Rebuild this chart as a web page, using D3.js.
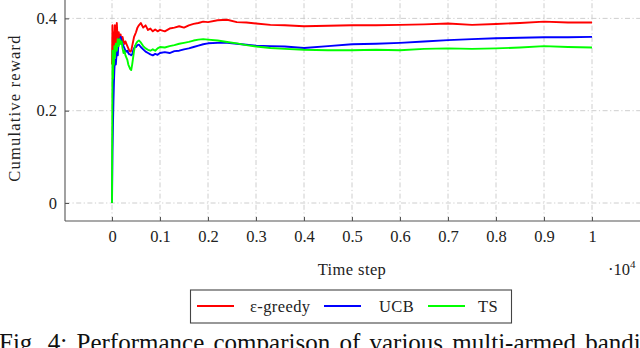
<!DOCTYPE html>
<html>
<head>
<meta charset="utf-8">
<script src="https://cdn.jsdelivr.net/npm/d3@7"></script>
<style>
  body { margin: 0; background: #fff; }
  svg { display: block; font-family: "Liberation Serif", "DejaVu Serif", serif; }
</style>
</head>
<body>
<div id="chart"></div>
<script>
// time steps and cumulative reward
const steps = [0, 10, 20, 30, 40, 50, 60, 80, 100, 120, 140, 160, 180, 200, 220, 240, 260, 280, 300, 320, 340, 360, 380, 400, 420, 440, 460, 480, 500, 530, 560, 600, 650, 700, 750, 800, 850, 900, 950, 1000, 1100, 1200, 1300, 1400, 1500, 1600, 1700, 1800, 1900, 2000, 2200, 2400, 2600, 2800, 3000, 3300, 3600, 4000, 4500, 5000, 5500, 6000, 6500, 7000, 7500, 8000, 8500, 9000, 9500, 10000];

const greedy = [0.30, 0.385, 0.31, 0.37, 0.30, 0.36, 0.385, 0.335, 0.39, 0.35, 0.37, 0.355, 0.365, 0.345, 0.36, 0.35, 0.345, 0.35, 0.345, 0.34, 0.335, 0.33, 0.328, 0.33, 0.34, 0.35, 0.36, 0.365, 0.37, 0.38, 0.385, 0.39, 0.38, 0.385, 0.375, 0.378, 0.372, 0.376, 0.372, 0.375, 0.372, 0.378, 0.38, 0.383, 0.38, 0.385, 0.388, 0.39, 0.393, 0.392, 0.396, 0.397, 0.392, 0.391, 0.389, 0.386, 0.385, 0.383, 0.384, 0.385, 0.385, 0.386, 0.387, 0.389, 0.386, 0.388, 0.39, 0.393, 0.391, 0.391];

const ucb = [0.0, 0.11, 0.17, 0.22, 0.26, 0.29, 0.31, 0.30, 0.33, 0.32, 0.355, 0.345, 0.36, 0.35, 0.345, 0.34, 0.335, 0.33, 0.328, 0.33, 0.325, 0.322, 0.322, 0.32, 0.322, 0.33, 0.335, 0.34, 0.338, 0.342, 0.343, 0.338, 0.333, 0.328, 0.325, 0.322, 0.32, 0.323, 0.321, 0.325, 0.327, 0.325, 0.329, 0.33, 0.333, 0.335, 0.338, 0.341, 0.344, 0.346, 0.347, 0.347, 0.345, 0.343, 0.341, 0.34, 0.339, 0.336, 0.34, 0.344, 0.345, 0.347, 0.35, 0.353, 0.355, 0.357, 0.358, 0.359, 0.359, 0.36];

const ts = [0.0, 0.33, 0.27, 0.33, 0.30, 0.34, 0.315, 0.345, 0.33, 0.355, 0.34, 0.355, 0.345, 0.35, 0.335, 0.325, 0.33, 0.32, 0.315, 0.31, 0.30, 0.295, 0.29, 0.288, 0.30, 0.315, 0.33, 0.34, 0.345, 0.35, 0.352, 0.348, 0.34, 0.335, 0.332, 0.33, 0.333, 0.33, 0.335, 0.338, 0.337, 0.34, 0.342, 0.345, 0.347, 0.349, 0.352, 0.354, 0.355, 0.354, 0.352, 0.349, 0.346, 0.342, 0.339, 0.336, 0.334, 0.332, 0.331, 0.331, 0.332, 0.331, 0.334, 0.335, 0.334, 0.335, 0.337, 0.34, 0.338, 0.337];

const seriesNames = ["\u03b5-greedy", "UCB", "TS"];
const seriesColors = ["#ff0000", "#0000ff", "#00ff00"];
const xTicks = [0, 1000, 2000, 3000, 4000, 5000, 6000, 7000, 8000, 9000, 10000];
const yTicks = [0, 0.2, 0.4];

const W = 640, H = 348;
const left = 65, bottom = 221;
const fs = 16.5;

const svg = d3.select("#chart").append("svg")
  .attr("width", W).attr("height", H);

const x = d3.scaleLinear().domain([0, 10000]).range([112, 592]);
const y = d3.scaleLinear().domain([0, 0.4]).range([203, 18.4]);

// grid
const grid = svg.append("g")
  .attr("stroke", "#c8c8c8").attr("stroke-width", 0.9)
  .attr("stroke-dasharray", "5 2.5 1.2 2.5");
grid.selectAll("line.v").data(xTicks).join("line")
  .attr("x1", d => x(d)).attr("x2", d => x(d))
  .attr("y1", bottom).attr("y2", 0);
grid.selectAll("line.h").data(yTicks).join("line")
  .attr("x1", left).attr("x2", W)
  .attr("y1", d => y(d)).attr("y2", d => y(d));

// lines
const rows = [greedy, ucb, ts];
const line = d3.line().x((d, i) => x(steps[i])).y(d => y(d));
svg.append("g").selectAll("path").data(rows).join("path")
  .attr("fill", "none")
  .attr("stroke", (d, i) => seriesColors[i])
  .attr("stroke-width", 1.9)
  .attr("stroke-linejoin", "round")
  .attr("d", line);

// axes
const xAxis = d3.axisBottom(x).tickValues(xTicks)
  .tickFormat(d => d === 0 ? "0" : d === 10000 ? "1" : d3.format(".1f")(d / 10000))
  .tickSize(-4).tickPadding(9);
const gx = svg.append("g").attr("transform", `translate(0,${bottom})`).call(xAxis);
gx.select(".domain").attr("d", `M${left},0H${W}`);

const yAxis = d3.axisLeft(y).tickValues(yTicks)
  .tickFormat(d => d === 0 ? "0" : d3.format(".1f")(d))
  .tickSize(-4).tickPadding(8);
const gy = svg.append("g").attr("transform", `translate(${left},0)`).call(yAxis);
gy.select(".domain").attr("d", `M0,${bottom}V0`);

svg.selectAll(".domain").attr("stroke", "#555").attr("stroke-width", 1.1);
svg.selectAll(".tick line").attr("stroke", "#555");
svg.selectAll(".tick text").attr("font-family", "Liberation Serif").attr("font-size", fs).attr("fill", "#222");

// labels
svg.append("text").attr("x", 352).attr("y", 275).attr("text-anchor", "middle")
  .attr("font-size", fs).attr("fill", "#222").attr("letter-spacing", 0.4).text("Time step");
const mult = svg.append("text").attr("x", 608).attr("y", 275).attr("font-size", fs).attr("fill", "#222");
mult.append("tspan").text("\u00b710");
mult.append("tspan").attr("font-size", 11).attr("dy", -7).text("4");

svg.append("text")
  .attr("transform", "translate(20,108) rotate(-90)")
  .attr("text-anchor", "middle").attr("font-size", fs).attr("fill", "#222")
  .attr("letter-spacing", 1.2)
  .text("Cumulative reward");

// legend
const lg = svg.append("g");
lg.append("rect").attr("x", 190.5).attr("y", 290).attr("width", 321).attr("height", 33)
  .attr("fill", "#fff").attr("stroke", "#444").attr("stroke-width", 1.1);
const lineX = [197, 324, 428];
const textX = [250, 379, 478];
seriesNames.forEach((name, i) => {
  lg.append("line").attr("x1", lineX[i]).attr("x2", lineX[i] + 37)
    .attr("y1", 306).attr("y2", 306)
    .attr("stroke", seriesColors[i]).attr("stroke-width", 1.9);
  lg.append("text").attr("x", textX[i]).attr("y", 311.5)
    .attr("font-size", fs).attr("fill", "#222").attr("letter-spacing", 0.4).text(name);
});

// caption (cut at the bottom edge, as in the figure)
svg.append("text").attr("x", -1).attr("y", 351)
  .attr("font-family", "Liberation Serif").attr("font-size", 25).attr("fill", "#111")
  .attr("word-spacing", 3)
  .text("Fig. 4: Performance comparison of various multi-armed bandit algorithms");
</script>
</body>
</html>
